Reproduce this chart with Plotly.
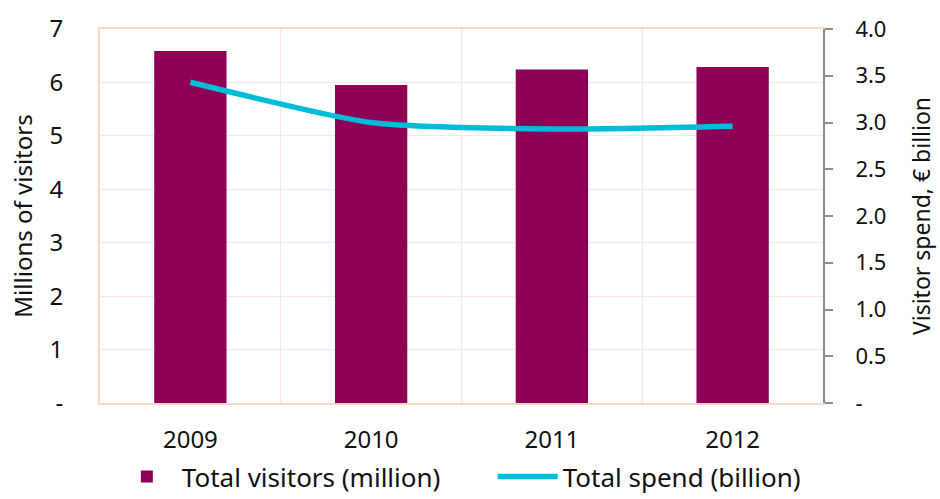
import plotly.graph_objects as go

# Visitor figures by year
years = ["2009", "2010", "2011", "2012"]
visitors_million = [6.59, 5.95, 6.24, 6.29]
spend_billion = [3.43, 3.00, 2.93, 2.96]
series_names = ["Total visitors (million)", "Total spend (billion)"]

left_ticks = [0, 1, 2, 3, 4, 5, 6, 7]
left_labels = ["-", "1", "2", "3", "4", "5", "6", "7"]
right_ticks = [0, 0.5, 1.0, 1.5, 2.0, 2.5, 3.0, 3.5, 4.0]
right_labels = ["-", "0.5", "1.0", "1.5", "2.0", "2.5", "3.0", "3.5", "4.0"]

BAR = "#8E0058"
LINE = "#00BCD9"
PEACH = "#FCD5C8"
GRID = "#FDE6DE"
FONT = "Noto Sans"
PAD = "\u00a0" * 7  # extra room between the two legend entries

x_pos = list(range(len(years)))
bounds = [i - 0.5 for i in range(len(years) + 1)]

fig = go.Figure()
fig.add_trace(go.Bar(
    x=x_pos, y=visitors_million, name=series_names[0] + PAD,
    marker=dict(color=BAR, line=dict(width=0)), width=0.4,
    xaxis="x", yaxis="y",
))
fig.add_trace(go.Scatter(
    x=x_pos, y=spend_billion, name=series_names[1],
    mode="lines", line=dict(color=LINE, width=5.5, shape="spline", smoothing=0.6),
    xaxis="x", yaxis="y2",
))
# invisible point so the boundary grid axis is rendered
fig.add_trace(go.Scatter(x=[-0.5], y=[0], xaxis="x2", yaxis="y",
                         mode="markers", marker=dict(opacity=0), showlegend=False,
                         hoverinfo="skip"))

fig.update_layout(
    width=940, height=499,
    margin=dict(l=100, r=117, t=29, b=96, autoexpand=False),
    paper_bgcolor="white", plot_bgcolor="white",
    font=dict(family=FONT, size=23, color="#111111"),
    bargap=0.6,
    showlegend=True,
    legend=dict(
        orientation="h", xref="container", x=0.119, xanchor="left",
        yref="container", y=0.045, yanchor="middle",
        font=dict(size=26), itemwidth=60,
        bgcolor="rgba(0,0,0,0)",
    ),
    xaxis=dict(
        range=[-0.5, 3.5], tickvals=x_pos, ticktext=years,
        showgrid=False, zeroline=False,
        showline=True, linecolor=PEACH, linewidth=2, mirror=True,
        ticks="outside", ticklen=14, tickcolor="rgba(0,0,0,0)",
        tickfont=dict(size=24),
    ),
    xaxis2=dict(
        range=[-0.5, 3.5], overlaying="x", tickvals=bounds,
        showgrid=True, gridcolor=GRID, gridwidth=1,
        showticklabels=False, ticks="", zeroline=False, showline=False,
    ),
    yaxis=dict(
        range=[0, 7], tickvals=left_ticks, ticktext=left_labels,
        showgrid=True, gridcolor=GRID, gridwidth=1, zeroline=False,
        showline=True, linecolor=PEACH, linewidth=2,
        ticks="outside", ticklen=30, tickcolor="rgba(0,0,0,0)",
        title=dict(text="Millions of visitors", standoff=10, font=dict(size=24)),
        tickfont=dict(size=24),
    ),
    yaxis2=dict(
        range=[0, 4], tickvals=right_ticks, ticktext=right_labels,
        overlaying="y", side="right", showgrid=False, zeroline=False,
        showline=True, linecolor="#8C8C8C", linewidth=2,
        ticks="outside", ticklen=8, tickcolor="#8C8C8C", tickwidth=2,
        ticklabelstandoff=18,
        title=dict(text="Visitor spend, € billion", standoff=28, font=dict(size=23)),
        tickfont=dict(size=22),
    ),
)

fig.write_html("out.html")
